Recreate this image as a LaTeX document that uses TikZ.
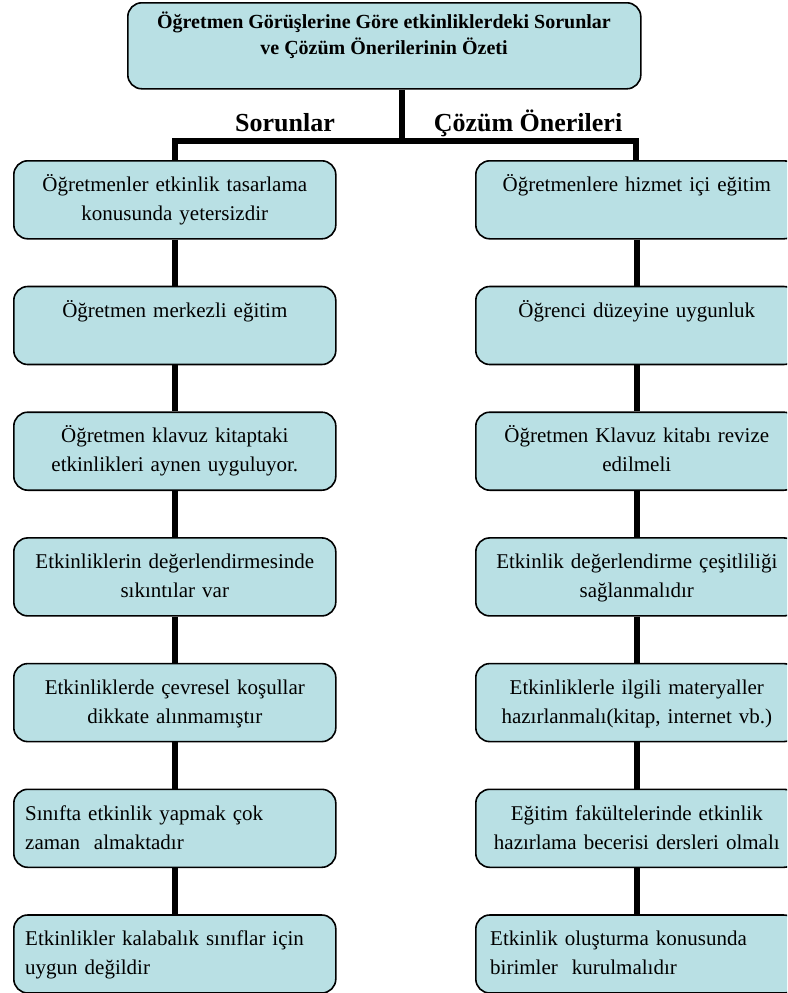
\documentclass[tikz,border=0pt]{standalone}
\usepackage{fontspec}
\setmainfont{Liberation Serif}
\definecolor{boxfill}{RGB}{185,224,228}
\begin{document}
\begin{tikzpicture}[x=1pt,y=-1pt,
  box/.style={draw=black, line width=1.6pt, fill=boxfill, rounded corners=14pt,
    rectangle, anchor=north west, inner sep=0pt, minimum width=322pt, minimum height=78pt},
  rbox/.style={box, minimum width=322pt},
  txt/.style={anchor=north, inner sep=0pt, align=center, text width=310pt,
    font=\fontsize{21}{29}\selectfont},
  ltxt/.style={txt, align=left, text width=300pt},
  conn/.style={line width=6pt, draw=black},
  head/.style={font=\fontsize{26}{30}\selectfont\bfseries, anchor=base, inner sep=0pt}]
\clip (0,0) rectangle (787,993);
% top box
\node[box, minimum width=513pt, minimum height=86pt] (top) at (127,2) {};
\node[anchor=north, inner sep=0pt, align=center, font=\fontsize{20}{26}\selectfont\bfseries]
  (toptxt) at (384,10) {\strut Öğretmen Görüşlerine Göre etkinliklerdeki Sorunlar\\ve Çözüm Önerilerinin Özeti};
% headings
\node[head] (hs) at (285,131) {Sorunlar};
\node[head] (hc) at (528,131) {Çözüm Önerileri};
% junctions
\coordinate (hub) at (402,141);
\coordinate (lhub) at (175,141);
\coordinate (rhub) at (636,141);
% left column
\node[box] (l1) at (13,160) {};
\node[box] (l2) at (13,285.7) {};
\node[box] (l3) at (13,411.4) {};
\node[box] (l4) at (13,537.1) {};
\node[box] (l5) at (13,662.8) {};
\node[box] (l6) at (13,788.5) {};
\node[box] (l7) at (13,914.2) {};
% right column
\node[rbox] (r1) at (475,160) {};
\node[rbox] (r2) at (475,285.7) {};
\node[rbox] (r3) at (475,411.4) {};
\node[rbox] (r4) at (475,537.1) {};
\node[rbox] (r5) at (475,662.8) {};
\node[rbox] (r6) at (475,788.5) {};
\node[rbox] (r7) at (475,914.2) {};
% connectors
\draw[conn] (top.south -| hub) -- (hub);
\draw[conn] ([xshift=-3pt]lhub) -- ([xshift=3pt]rhub);
\draw[conn] (lhub) -- (l1.north -| lhub);
\draw[conn] (rhub) -- (r1.north -| rhub);
\foreach \a/\b in {l1/l2,l2/l3,l3/l4,l4/l5,l5/l6,l6/l7,r1/r2,r2/r3,r3/r4,r4/r5,r5/r6,r6/r7}
  \draw[conn] (\a.south) -- (\b.north);
% texts left
\node[txt] (t1) at ([yshift=-11pt]l1.north) {\strut Öğretmenler etkinlik tasarlama\\konusunda yetersizdir};
\node[txt] (t2) at ([yshift=-11pt]l2.north) {\strut Öğretmen merkezli eğitim};
\node[txt] (t3) at ([yshift=-11pt]l3.north) {\strut Öğretmen klavuz kitaptaki\\etkinlikleri aynen uyguluyor.};
\node[txt] (t4) at ([yshift=-11pt]l4.north) {\strut Etkinliklerin değerlendirmesinde\\sıkıntılar var};
\node[txt] (t5) at ([yshift=-11pt]l5.north) {\strut Etkinliklerde çevresel koşullar\\dikkate alınmamıştır};
\node[ltxt, anchor=north west] (t6) at ([xshift=12pt,yshift=-11pt]l6.north west) {\strut Sınıfta etkinlik yapmak çok\\zaman\ \ almaktadır};
\node[ltxt, anchor=north west] (t7) at ([xshift=12pt,yshift=-11pt]l7.north west) {\strut Etkinlikler kalabalık sınıflar için\\uygun değildir};
% texts right
\node[txt] (u1) at ([yshift=-11pt]r1.north) {\strut Öğretmenlere hizmet içi eğitim};
\node[txt] (u2) at ([yshift=-11pt]r2.north) {\strut Öğrenci düzeyine uygunluk};
\node[txt] (u3) at ([yshift=-11pt]r3.north) {\strut Öğretmen Klavuz kitabı revize\\edilmeli};
\node[txt] (u4) at ([yshift=-11pt]r4.north) {\strut Etkinlik değerlendirme çeşitliliği\\sağlanmalıdır};
\node[txt] (u5) at ([yshift=-11pt]r5.north) {\strut Etkinliklerle ilgili materyaller\\hazırlanmalı(kitap, internet vb.)};
\node[txt] (u6) at ([yshift=-11pt]r6.north) {\strut Eğitim fakültelerinde etkinlik\\hazırlama becerisi dersleri olmalı};
\node[ltxt, anchor=north west] (u7) at ([xshift=15pt,yshift=-11pt]r7.north west) {\strut Etkinlik oluşturma konusunda\\birimler\ \ kurulmalıdır};
\end{tikzpicture}
\end{document}
